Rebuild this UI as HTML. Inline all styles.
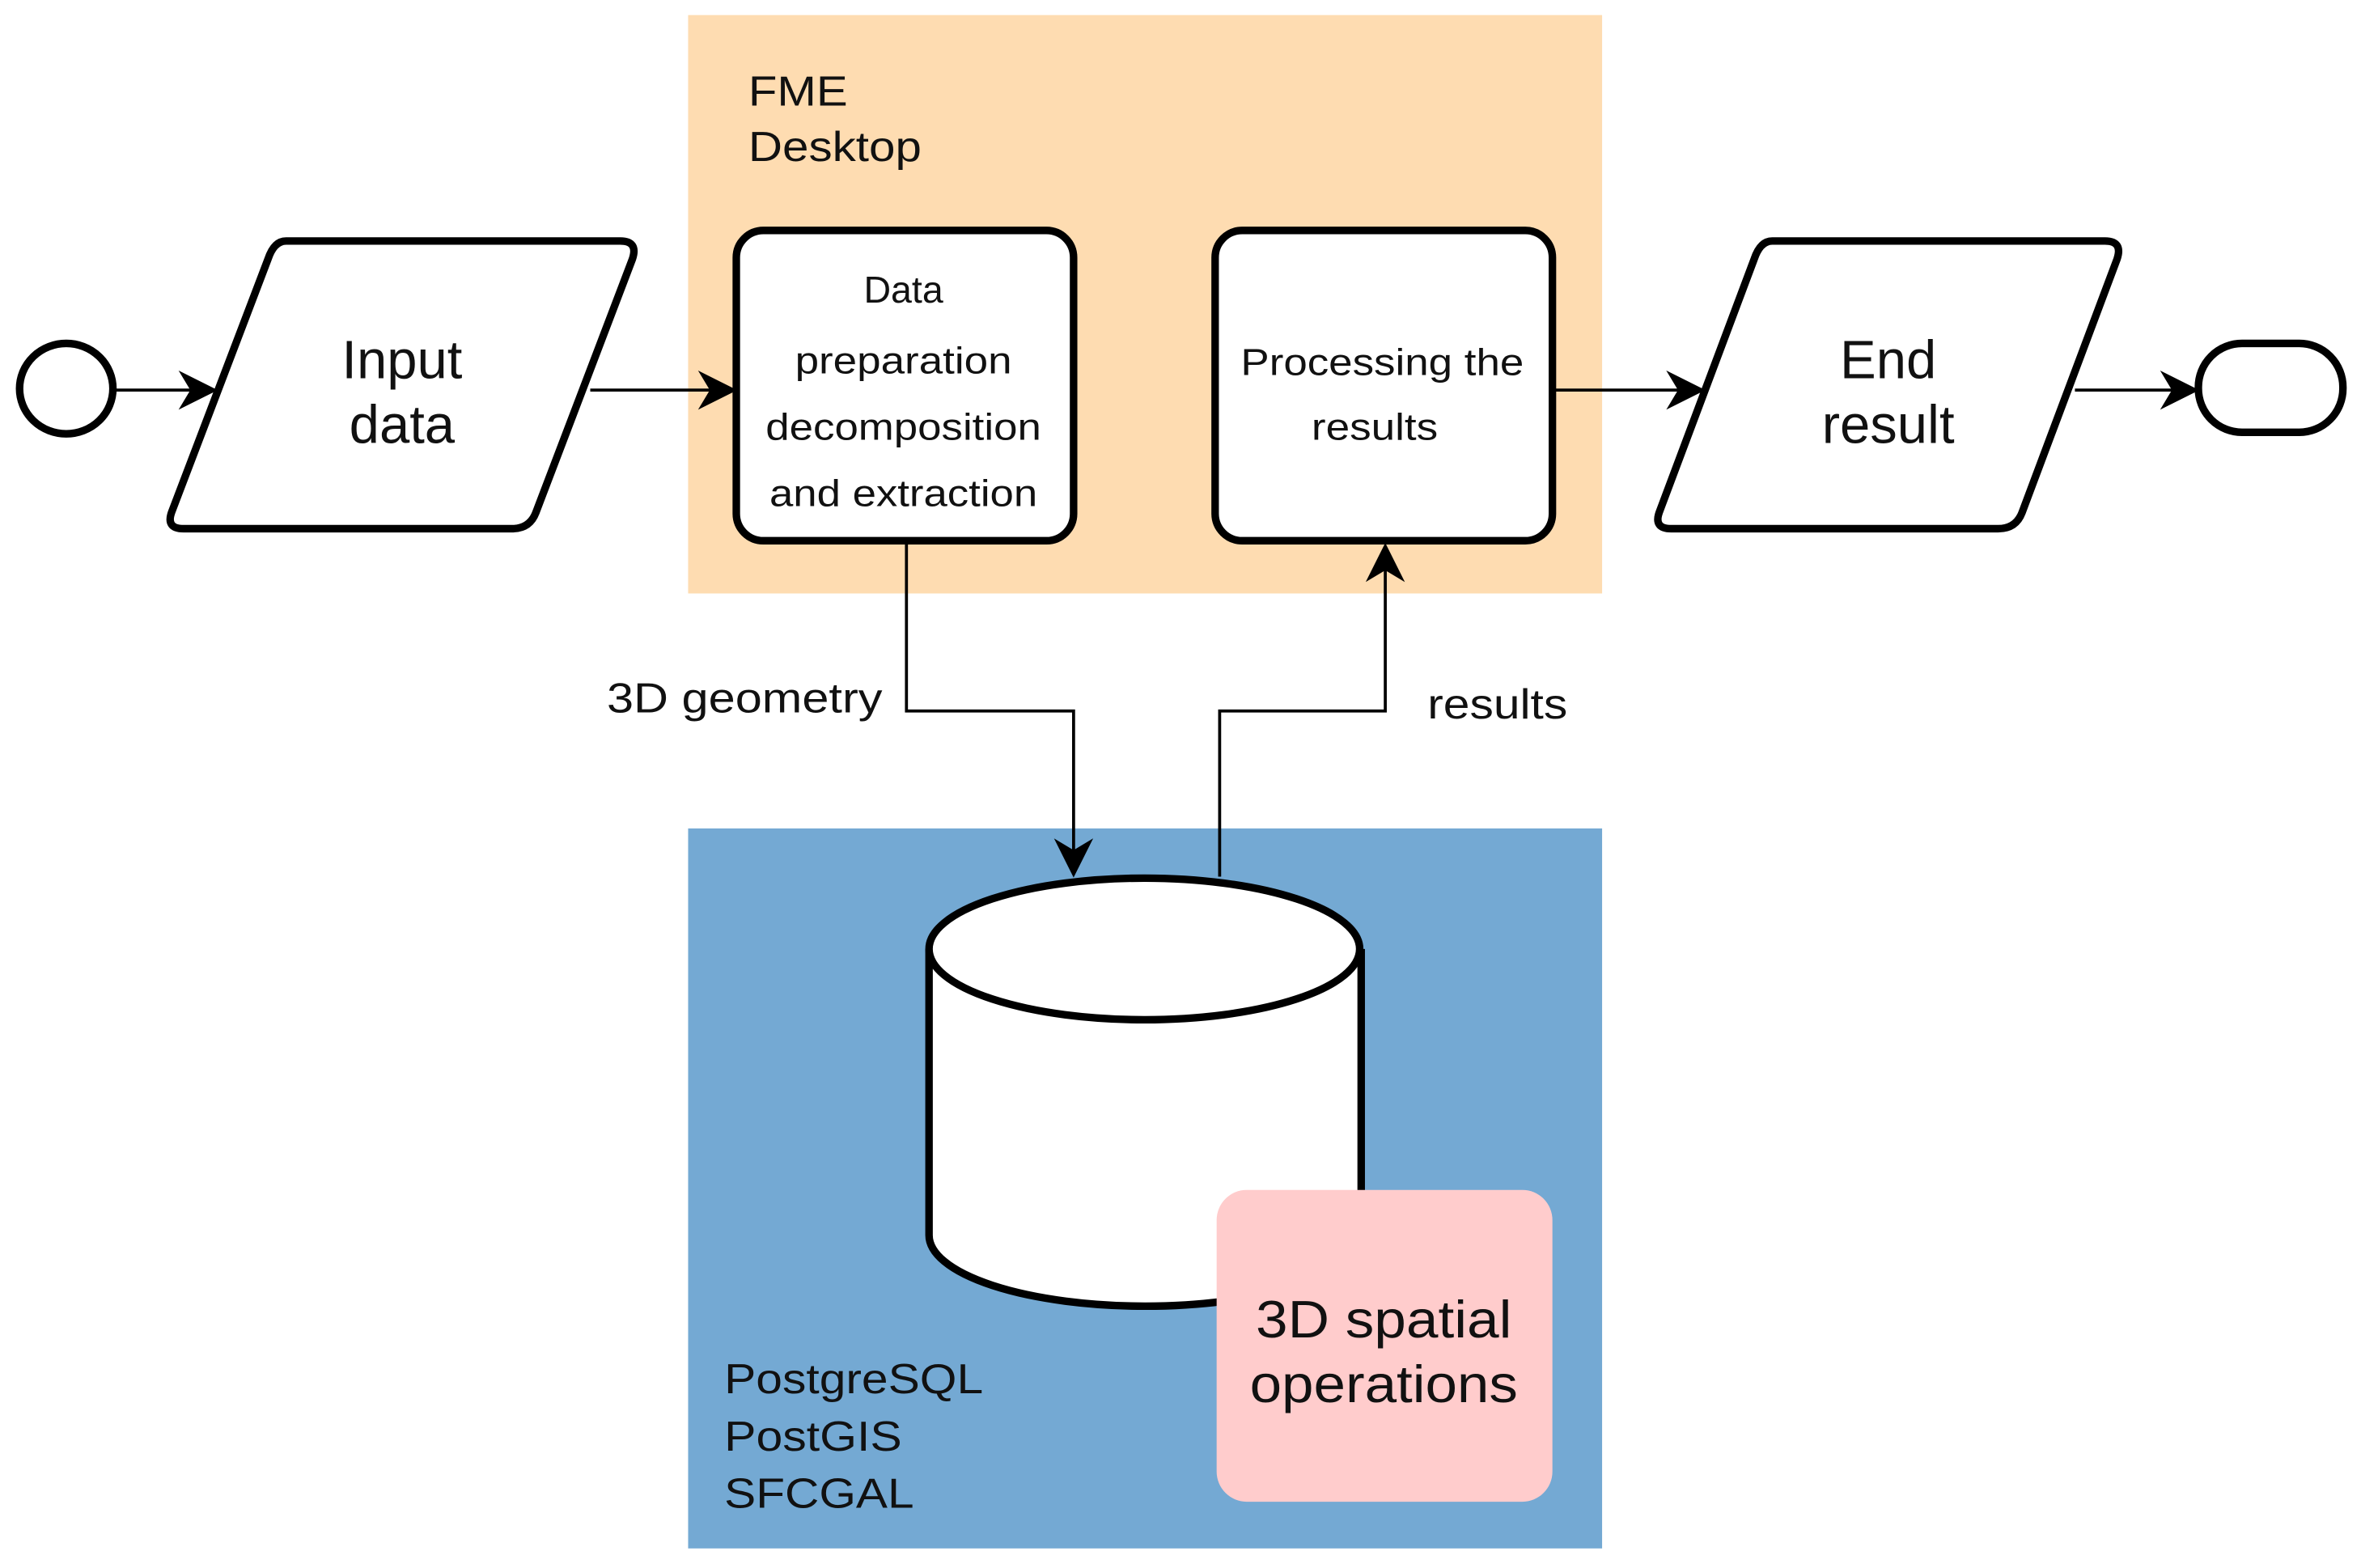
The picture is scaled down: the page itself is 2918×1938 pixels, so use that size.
<!DOCTYPE html>
<html><head><meta charset="utf-8"><style>
html,body{margin:0;padding:0;background:#fff;}
svg{display:block;}
text{font-family:"Liberation Sans",Arial,sans-serif;fill:#111;}
</style></head><body>
<svg width="2918" height="1938" viewBox="0 0 1568 1041" preserveAspectRatio="none" xmlns="http://www.w3.org/2000/svg">
<defs>
<marker id="ah2" viewBox="0 0 10 10" refX="9" refY="5" markerWidth="26" markerHeight="26" orient="auto" markerUnits="userSpaceOnUse">
<path d="M0,0 L10,5 L0,10 L3,5 Z" fill="#000"/>
</marker>
</defs>
<rect x="457" y="10" width="607" height="384" fill="#fedcb1"/>
<rect x="457" y="550" width="607" height="478" fill="#74a9d3"/>

<text x="497" y="70" font-size="28" textLength="66" lengthAdjust="spacingAndGlyphs">FME</text>
<text x="497" y="107" font-size="28" textLength="115" lengthAdjust="spacingAndGlyphs">Desktop</text>

<ellipse cx="44" cy="258" rx="31" ry="30" fill="#fff" stroke="#000" stroke-width="5"/>
<path d="M190,160 L412,160 Q424,160 420,172 L356,340 Q352,351 340,351 L122,351 Q110,351 114,340 L178,172 Q182,160 190,160 Z" fill="#fff" stroke="#000" stroke-width="5"/>
<text x="267" y="251" font-size="36" text-anchor="middle">Input</text>
<text x="267" y="294" font-size="36" text-anchor="middle">data</text>

<rect x="489" y="153" width="224" height="206" rx="18" fill="#fff" stroke="#000" stroke-width="5"/>
<g font-size="25" text-anchor="middle">
<text x="600" y="201">Data</text>
<text x="600" y="248" textLength="144" lengthAdjust="spacingAndGlyphs">preparation</text>
<text x="600" y="292" textLength="183" lengthAdjust="spacingAndGlyphs">decomposition</text>
<text x="600" y="336" textLength="178" lengthAdjust="spacingAndGlyphs">and extraction</text>
</g>
<rect x="807" y="153" width="224" height="206" rx="18" fill="#fff" stroke="#000" stroke-width="5"/>
<text x="918" y="249" font-size="25" text-anchor="middle" textLength="188" lengthAdjust="spacingAndGlyphs">Processing the</text>
<text x="913" y="292" font-size="25" text-anchor="middle" textLength="84" lengthAdjust="spacingAndGlyphs">results</text>

<path d="M1177,160 L1398,160 Q1410,160 1406,172 L1343,340 Q1339,351 1327,351 L1110,351 Q1098,351 1102,340 L1165,172 Q1169,160 1177,160 Z" fill="#fff" stroke="#000" stroke-width="5"/>
<text x="1254" y="251" font-size="36" text-anchor="middle">End</text>
<text x="1254" y="294" font-size="36" text-anchor="middle">result</text>

<rect x="1460" y="228" width="96" height="59" rx="29" fill="#fff" stroke="#000" stroke-width="5"/>

<g stroke="#000" stroke-width="2" fill="none">
<line x1="76" y1="259" x2="142" y2="259" marker-end="url(#ah2)"/>
<line x1="392" y1="259" x2="487" y2="259" marker-end="url(#ah2)"/>
<line x1="1031" y1="259" x2="1130" y2="259" marker-end="url(#ah2)"/>
<line x1="1378" y1="259" x2="1458" y2="259" marker-end="url(#ah2)"/>
<polyline points="602,360 602,472 713,472 713,580" marker-end="url(#ah2)"/>
<polyline points="810,582 810,472 920,472 920,363" marker-end="url(#ah2)"/>
</g>
<text x="403" y="473" font-size="28" textLength="183" lengthAdjust="spacingAndGlyphs">3D geometry</text>
<text x="948" y="477" font-size="28" textLength="93" lengthAdjust="spacingAndGlyphs">results</text>

<path d="M617,630 L617,820 A143,47 0 0 0 904,820 L904,630" fill="#fff" stroke="#000" stroke-width="5"/>
<ellipse cx="760" cy="630" rx="143" ry="47" fill="#fff" stroke="#000" stroke-width="5"/>

<rect x="808" y="790" width="223" height="207" rx="20" fill="#ffcccc"/>
<text x="919" y="888" font-size="35" text-anchor="middle" textLength="170" lengthAdjust="spacingAndGlyphs">3D spatial</text>
<text x="919" y="931" font-size="35" text-anchor="middle" textLength="178" lengthAdjust="spacingAndGlyphs">operations</text>

<text x="481" y="925" font-size="28" textLength="172" lengthAdjust="spacingAndGlyphs">PostgreSQL</text>
<text x="481" y="963" font-size="28" textLength="118" lengthAdjust="spacingAndGlyphs">PostGIS</text>
<text x="481" y="1001" font-size="28" textLength="126" lengthAdjust="spacingAndGlyphs">SFCGAL</text>
</svg>
</body></html>
